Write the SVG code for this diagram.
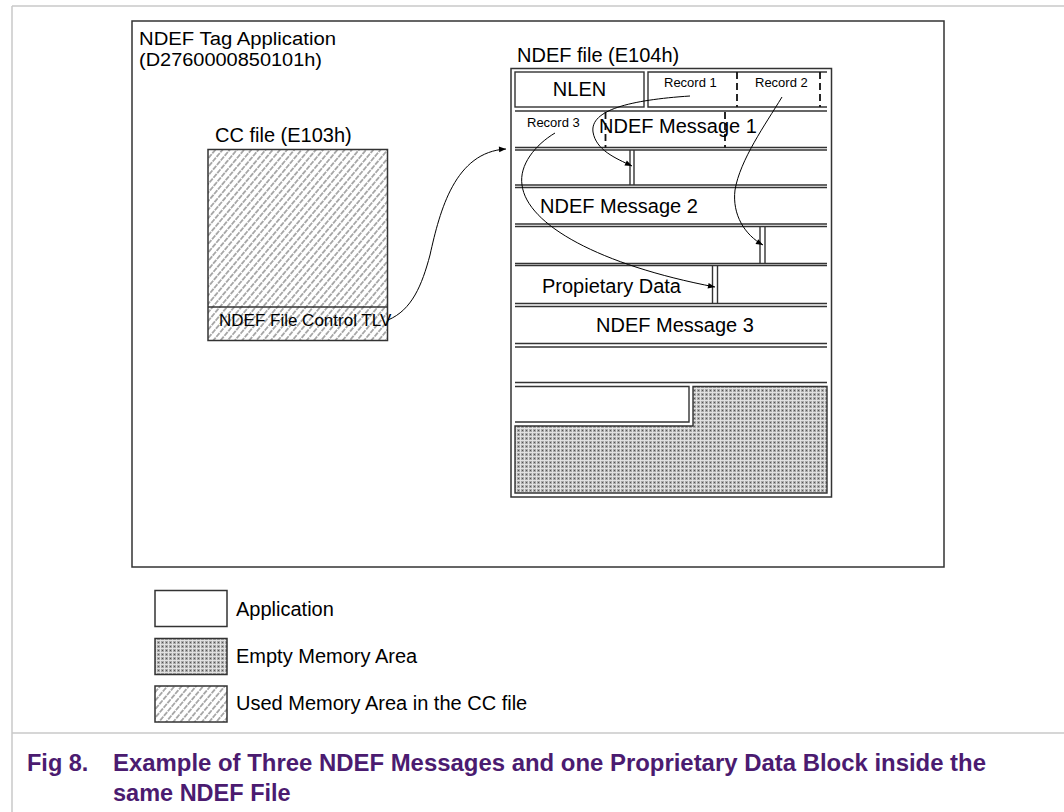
<svg xmlns="http://www.w3.org/2000/svg" width="1064" height="812" viewBox="0 0 1064 812">
<defs>
<style>
.t{font-family:"Liberation Sans",Arial,Helvetica,sans-serif;fill:#000}
.big{font-size:20px}
.rec{font-size:13px}
.frame{stroke:#c8c8c8;stroke-width:1.5;fill:none}
.box{fill:none;stroke:#333;stroke-width:1.5}
.ln{fill:none;stroke:#333;stroke-width:1.4}
.dash{fill:none;stroke:#111;stroke-width:1.8;stroke-dasharray:7 4}
.conn{fill:none;stroke:#000;stroke-width:1}
.cap{font-family:"Liberation Sans",Arial,Helvetica,sans-serif;font-weight:bold;font-size:23.5px;fill:#4b1b70}
</style>
<pattern id="dots" width="4" height="4" patternUnits="userSpaceOnUse">
<rect width="4" height="4" fill="#a9a9a9"/>
<rect width="4" height="1" fill="#e2e2e2"/>
<rect width="1" height="4" fill="#e2e2e2"/>
<rect x="2" y="2" width="1" height="1" fill="#555"/>
</pattern>
<pattern id="hatch" width="5.5" height="6" patternUnits="userSpaceOnUse" patternTransform="rotate(40)">
<rect width="5.5" height="6" fill="#fff"/>
<line x1="2.75" y1="0" x2="2.75" y2="6" stroke="#444" stroke-width="0.9" stroke-dasharray="5 1"/>
</pattern>
<marker id="arr" viewBox="0 0 10 10" refX="10" refY="5" markerWidth="8" markerHeight="7" orient="auto" markerUnits="userSpaceOnUse">
<path d="M0,1 L10,5 L0,9 z" fill="#000"/>
</marker>
</defs>
<rect width="1064" height="812" fill="#fff"/>
<g id="page-frame">
<line class="frame" x1="12" y1="6" x2="1064" y2="6"/>
<line class="frame" x1="12" y1="6" x2="12" y2="812"/>
<line class="frame" x1="12" y1="733" x2="1064" y2="733"/>
</g>
<g id="tag-application">
<rect class="box" x="132" y="21" width="812" height="546"/>
<text class="t" x="139" y="45" font-size="18" textLength="197" lengthAdjust="spacingAndGlyphs">NDEF Tag Application</text>
<text class="t" x="139" y="65.5" font-size="18" textLength="183" lengthAdjust="spacingAndGlyphs">(D2760000850101h)</text>
</g>
<g id="cc-file">
<text class="t big" x="215" y="141.5">CC file (E103h)</text>
<rect x="208" y="149.5" width="179.5" height="191" fill="url(#hatch)" stroke="#333" stroke-width="1.5"/>
<line class="ln" x1="208" y1="307" x2="387.5" y2="307"/>
<text class="t" x="219" y="326" font-size="17">NDEF File Control TLV</text>
</g>
<g id="ndef-file">
<text class="t big" x="517" y="62">NDEF file (E104h)</text>
<rect class="box" x="511" y="68.5" width="320.5" height="428.5"/>
<g id="row1">
<rect class="ln" x="515" y="72" width="129" height="35"/>
<text class="t big" x="579.5" y="96" text-anchor="middle">NLEN</text>
<path class="ln" d="M827,72 H648 V107 H827"/>
<line class="dash" x1="737" y1="72" x2="737" y2="107"/>
<line class="dash" x1="820" y1="72" x2="820" y2="107"/>
<text class="t rec" x="664" y="87">Record 1</text>
<text class="t rec" x="755" y="87">Record 2</text>
</g>
<g id="row2">
<line class="ln" x1="515" y1="111" x2="827" y2="111"/>
<line class="ln" x1="515" y1="147.5" x2="827" y2="147.5"/>
<line class="dash" x1="605.5" y1="112" x2="605.5" y2="147.5"/>
<line class="dash" x1="725" y1="112" x2="725" y2="147.5"/>
<text class="t rec" x="527" y="127">Record 3</text>
<text class="t big" x="599" y="133">NDEF Message 1</text>
</g>
<g id="row3">
<line class="ln" x1="515" y1="150" x2="827" y2="150"/>
<line class="ln" x1="515" y1="185" x2="827" y2="185"/>
<line class="ln" x1="630" y1="150" x2="630" y2="185"/>
<line class="ln" x1="634" y1="150" x2="634" y2="185"/>
</g>
<g id="row4">
<line class="ln" x1="515" y1="187.5" x2="827" y2="187.5"/>
<line class="ln" x1="515" y1="224" x2="827" y2="224"/>
<text class="t big" x="540" y="213">NDEF Message 2</text>
</g>
<g id="row5">
<line class="ln" x1="515" y1="226.5" x2="827" y2="226.5"/>
<line class="ln" x1="515" y1="263.5" x2="827" y2="263.5"/>
<line class="ln" x1="760" y1="226.5" x2="760" y2="263.5"/>
<line class="ln" x1="765" y1="226.5" x2="765" y2="263.5"/>
</g>
<g id="row6">
<line class="ln" x1="515" y1="265.5" x2="827" y2="265.5"/>
<line class="ln" x1="515" y1="303.5" x2="827" y2="303.5"/>
<line class="ln" x1="712.5" y1="265.5" x2="712.5" y2="303.5"/>
<line class="ln" x1="717.5" y1="265.5" x2="717.5" y2="303.5"/>
<text class="t big" x="542" y="293">Propietary Data</text>
</g>
<g id="row7">
<line class="ln" x1="515" y1="306.5" x2="827" y2="306.5"/>
<line class="ln" x1="515" y1="343.5" x2="827" y2="343.5"/>
<text class="t big" x="596" y="332">NDEF Message 3</text>
</g>
<g id="row8">
<line class="ln" x1="515" y1="347" x2="827" y2="347"/>
<line class="ln" x1="515" y1="382.5" x2="827" y2="382.5"/>
</g>
<g id="row9">
<path class="ln" d="M515,386.5 H689 V422 H515"/>
<polygon points="693,386.5 827,386.5 827,493 515,493 515,426 693,426" fill="url(#dots)" stroke="#333" stroke-width="1.4"/>
</g>
</g>
<g id="legend">
<rect class="box" x="155" y="590.5" width="72" height="36" fill="#fff"/>
<text class="t big" x="236" y="616">Application</text>
<rect x="155" y="638.5" width="72" height="36" fill="url(#dots)" stroke="#333" stroke-width="1.5"/>
<text class="t big" x="236" y="663">Empty Memory Area</text>
<rect x="155" y="686" width="72" height="36" fill="url(#hatch)" stroke="#333" stroke-width="1.5"/>
<text class="t big" x="236" y="710">Used Memory Area in the CC file</text>
</g>
<g id="connectors">
<path class="conn" marker-end="url(#arr)" d="M388,320 C412,310 422,285 430,255 C440,210 455,152 506,149"/>
<path class="conn" marker-end="url(#arr)" d="M690,96 C630,100 590,110 593,132 C596,150 615,158 632,166"/>
<path class="conn" marker-end="url(#arr)" d="M782,97 C765,125 740,160 735,190 C732,215 745,235 763,245"/>
<path class="conn" marker-end="url(#arr)" d="M555,133 C535,145 519,165 522,185 C527,225 600,265 715,287"/>
</g>
<g id="caption">
<text class="cap" x="27" y="771">Fig 8.</text>
<text class="cap" x="113" y="771" textLength="873" lengthAdjust="spacingAndGlyphs">Example of Three NDEF Messages and one Proprietary Data Block inside the</text>
<text class="cap" x="113" y="801">same NDEF File</text>
</g>
</svg>
